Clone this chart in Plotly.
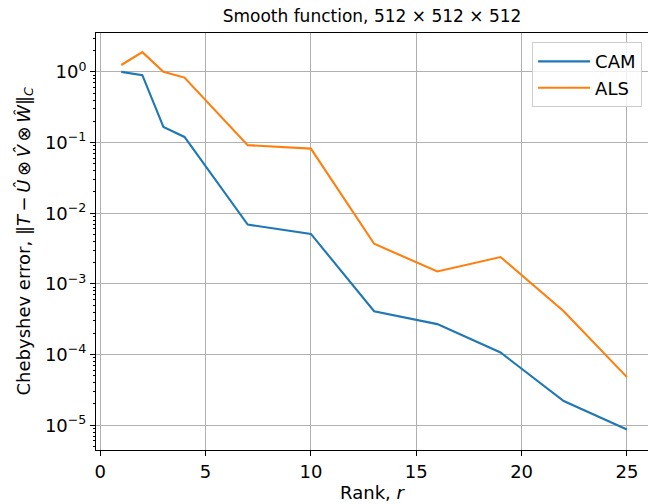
import plotly.graph_objects as go

ranks = [1, 2, 3, 4, 7, 10, 13, 16, 19, 22, 25]
cam = [1.0, 0.9, 0.166, 0.12, 0.0069, 0.0051, 4.1e-4, 2.7e-4, 1.07e-4, 2.2e-5, 8.7e-6]
als = [1.25, 1.9, 1.0, 0.83, 0.092, 0.082, 0.0037, 0.0015, 0.0024, 4.1e-4, 4.8e-5]

xticks = [0, 5, 10, 15, 20, 25]
yticks = [1e-5, 1e-4, 1e-3, 1e-2, 1e-1, 1]
yticklabels = ["10<sup>−5</sup>", "10<sup>−4</sup>", "10<sup>−3</sup>",
               "10<sup>−2</sup>", "10<sup>−1</sup>", "10<sup>0</sup>"]

minor_vals = [m * 10.0 ** e for e in range(-6, 1) for m in range(2, 10)]

ylabel = ("Chebyshev error, ‖<i>T</i>\u2009−\u2009<i>Û</i>\u2009⊗\u2009<i>V̂</i>"
          "\u2009⊗\u2009<i>Ŵ</i>‖<sub><i>C</i></sub>")

font = "DejaVu Sans"
fig = go.Figure()
fig.add_trace(go.Scatter(x=ranks, y=cam, mode="lines", name="CAM",
                         line=dict(color="#1f77b4", width=2.1)))
fig.add_trace(go.Scatter(x=ranks, y=als, mode="lines", name="ALS",
                         line=dict(color="#ff7f0e", width=2.1)))

fig.update_layout(
    width=648, height=504,
    margin=dict(l=96, r=0, t=33, b=54, autoexpand=False),
    paper_bgcolor="white", plot_bgcolor="white",
    font=dict(family=font, size=18, color="black"),
    title=dict(text="Smooth function, 512 × 512 × 512", x=0.5, xref="paper",
               xanchor="center", y=1 - 16 / 504, yanchor="middle",
               font=dict(size=17)),
    legend=dict(x=0.79, y=0.978, xanchor="left", yanchor="top",
                bgcolor="rgba(255,255,255,0.8)", bordercolor="#cccccc",
                borderwidth=1, font=dict(size=18), tracegroupgap=0,
                itemwidth=52),
    showlegend=True,
    annotations=[dict(text=ylabel, xref="paper", yref="paper",
                      x=(24 - 96) / 552, y=0.5, xanchor="center",
                      yanchor="middle", textangle=-90, showarrow=False,
                      font=dict(size=18))],
)
fig.update_xaxes(
    range=[-0.2, 26.0], tickvals=xticks, ticks="outside", ticklen=5,
    tickcolor="black", showline=True, linecolor="black", linewidth=1,
    mirror=True, showgrid=True, gridcolor="#b0b0b0", gridwidth=1,
    zeroline=False, tickfont=dict(size=18), automargin=False,
    title=dict(text="Rank, <i>r</i>", font=dict(size=18), standoff=2),
)
fig.update_yaxes(
    type="log", range=[-5.35, 0.55], tickvals=yticks, ticktext=yticklabels,
    ticks="outside", ticklen=5, tickcolor="black", showline=True,
    linecolor="black", linewidth=1, mirror=True, showgrid=True,
    gridcolor="#b0b0b0", gridwidth=1, zeroline=False, tickfont=dict(size=18),
    automargin=False,
    minor=dict(tickvals=minor_vals, ticks="outside", ticklen=2.5,
               tickcolor="black", showgrid=False),
)
fig.write_html("out.html", config={"displayModeBar": False},
               post_script="document.body.style.margin='0px';")
